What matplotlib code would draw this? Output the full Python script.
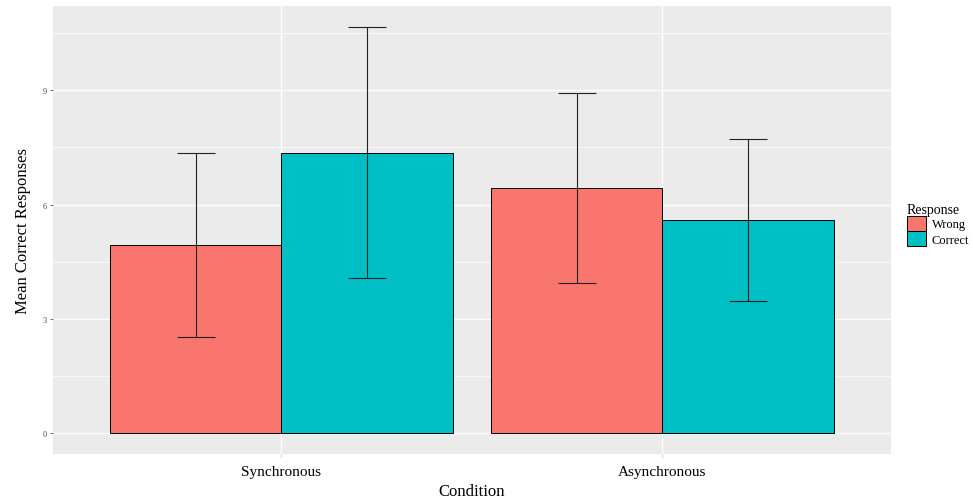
import matplotlib.pyplot as plt
import numpy as np
from matplotlib.patches import Patch

conditions = ["Synchronous", "Asynchronous"]
responses = ["Wrong", "Correct"]
means_wrong = [4.94, 6.44]
means_correct = [7.36, 5.59]
err_wrong = [2.41, 2.50]
err_correct = [3.29, 2.12]
colors = ["#F8766D", "#00BFC4"]

plt.rcParams['font.family'] = ['Liberation Serif', 'DejaVu Serif']

fig = plt.figure(figsize=(9.73, 5.02), dpi=100)
ax = fig.add_axes([0.0542, 0.093, 0.8615, 0.8937])
ax.set_facecolor("#EBEBEB")

x = np.arange(1, len(conditions) + 1)
w = 0.45
for i, (m, e) in enumerate([(means_wrong, err_wrong), (means_correct, err_correct)]):
    pos = x + (i - 0.5) * w
    ax.bar(pos, m, width=w, color=colors[i], edgecolor="black", linewidth=0.7, zorder=2)
    ax.errorbar(pos, m, yerr=e, fmt="none", ecolor="#222222", elinewidth=0.8,
                capsize=14, capthick=0.8, zorder=3)

ax.set_xlim(0.4, 2.6)
ax.set_ylim(-0.55, 11.22)
ax.set_yticks([0, 3, 6, 9])
ax.set_yticks([1.5, 4.5, 7.5, 10.5], minor=True)
ax.set_xticks(x)
ax.set_xticklabels(conditions, fontsize=11)
ax.grid(which="major", color="white", linewidth=1.0, zorder=0)
ax.grid(which="minor", axis="y", color="white", linewidth=0.5, zorder=0)
ax.set_axisbelow(True)
for s in ax.spines.values():
    s.set_visible(False)
ax.tick_params(axis="y", which="major", labelsize=6, labelcolor="#4D4D4D",
               color="#333333", length=2.5, width=0.5, pad=2)
ax.tick_params(axis="x", which="major", color="#BBBBBB", length=2.5, width=0.5, pad=5)
ax.tick_params(which="minor", length=0)

ax.set_xlabel("Condition", fontsize=12, labelpad=4)
ax.set_ylabel("Mean Correct Responses", fontsize=12, labelpad=8)

handles = [Patch(facecolor=c, edgecolor="black", linewidth=0.7) for c in colors]
leg = fig.legend(handles, responses, title="Response", loc="upper left",
                 bbox_to_anchor=(0.923, 0.612), frameon=False, fontsize=9,
                 title_fontsize=10, handlelength=1.5, handleheight=1.5,
                 labelspacing=0.0, handletextpad=0.5, borderpad=0.2)
leg._legend_box.align = "left"

fig.savefig("out.png", dpi=100)
